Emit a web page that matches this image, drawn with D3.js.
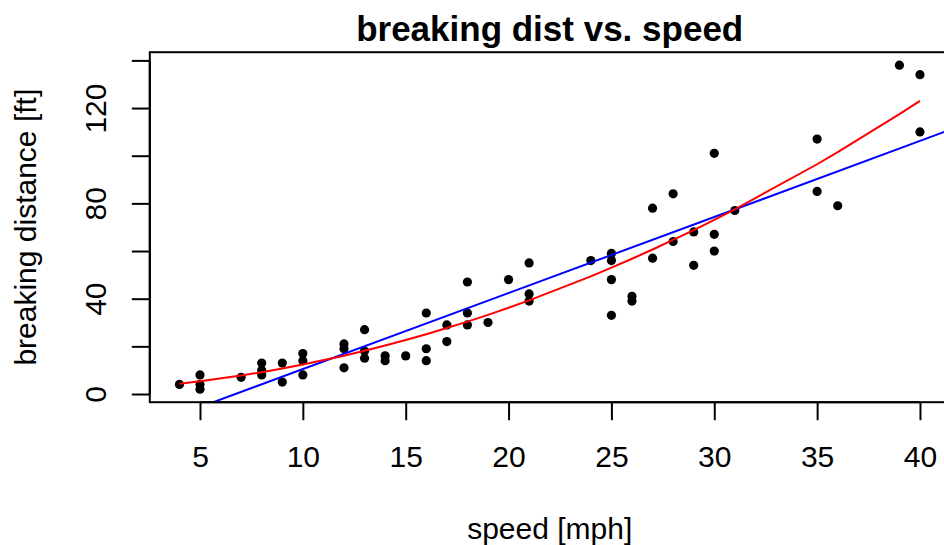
<!DOCTYPE html>
<html>
<head>
<meta charset="utf-8">
<script src="https://cdn.jsdelivr.net/npm/d3@7"></script>
<style>
  body { margin: 0; background: #fff; }
  svg { display: block; font-family: "Liberation Sans", Arial, sans-serif; }
</style>
</head>
<body>
<svg id="chart" width="944" height="545"></svg>
<script>
const speed = [4, 5, 5, 5, 7, 8, 8, 8, 9, 9, 10, 10, 10, 12, 12, 12, 13, 13, 13, 14, 14, 15,
  16, 16, 16, 17, 17, 18, 18, 18, 19, 20, 21, 21, 21, 24, 25, 25, 25, 25, 26, 26, 27, 27,
  28, 28, 29, 29, 30, 30, 30, 31, 35, 35, 36, 39, 40, 40];
const dist = [4, 8, 4, 2, 7, 13, 10, 8, 13, 5, 17, 14, 8, 21, 19, 11, 27, 18, 15, 16, 14, 16,
  34, 19, 14, 29, 22, 47, 34, 29, 30, 48, 55, 42, 39, 56, 59, 56, 48, 33, 41, 39, 78, 57,
  84, 64, 68, 54, 101, 67, 60, 77, 107, 85, 79, 138, 134, 110];
const xTicks = [5, 10, 15, 20, 25, 30, 35, 40];
const yTicks = [0, 20, 40, 60, 80, 100, 120, 140];
const yLabelled = [0, 40, 80, 120];

const svg = d3.select("#chart");
const plot = {left: 149.8, right: 949.6, top: 52.2, bottom: 402.2};
const fontSize = 30;

// R style: 4% padding on both ends of the data range
const pad = (lo, hi) => [lo - (hi - lo) * 0.04, hi + (hi - lo) * 0.04];
const x = d3.scaleLinear().domain(pad(d3.min(speed), d3.max(speed))).range([plot.left, plot.right]);
const y = d3.scaleLinear().domain(pad(d3.min(dist), d3.max(dist))).range([plot.bottom, plot.top]);

// least squares fits: straight line and quadratic
const n = speed.length;
const mx = d3.mean(speed), my = d3.mean(dist);
const slope = d3.sum(speed, (s, i) => (s - mx) * (dist[i] - my)) / d3.sum(speed, s => (s - mx) ** 2);
const intercept = my - slope * mx;

const solve3 = (A, b) => {
  const M = A.map((r, i) => r.concat(b[i]));
  for (let c = 0; c < 3; c++) {
    let p = c;
    for (let r = c + 1; r < 3; r++) if (Math.abs(M[r][c]) > Math.abs(M[p][c])) p = r;
    [M[c], M[p]] = [M[p], M[c]];
    for (let r = 0; r < 3; r++) {
      if (r === c) continue;
      const f = M[r][c] / M[c][c];
      for (let k = c; k < 4; k++) M[r][k] -= f * M[c][k];
    }
  }
  return M.map((r, i) => r[3] / r[i]);
};
const S = k => d3.sum(speed, s => s ** k);
const SY = k => d3.sum(speed, (s, i) => s ** k * dist[i]);
const quad = solve3([[n, S(1), S(2)], [S(1), S(2), S(3)], [S(2), S(3), S(4)]], [SY(0), SY(1), SY(2)]);
const quadAt = s => quad[0] + quad[1] * s + quad[2] * s * s;

svg.append("clipPath").attr("id", "clip")
  .append("rect")
  .attr("x", plot.left).attr("y", plot.top)
  .attr("width", plot.right - plot.left).attr("height", plot.bottom - plot.top);

// points
svg.append("g").selectAll("circle")
  .data(speed)
  .enter().append("circle")
  .attr("cx", d => x(d))
  .attr("cy", (d, i) => y(dist[i]))
  .attr("r", 4.6)
  .attr("fill", "#000");

// linear fit (abline, clipped to the plot region)
const xd = x.domain();
svg.append("line")
  .attr("clip-path", "url(#clip)")
  .attr("x1", x(xd[0])).attr("y1", y(intercept + slope * xd[0]))
  .attr("x2", x(xd[1])).attr("y2", y(intercept + slope * xd[1]))
  .attr("stroke", "#0000ff")
  .attr("stroke-width", 2);

// quadratic fit drawn through the sorted speeds
const sorted = Array.from(new Set(speed)).sort((a, b) => a - b);
svg.append("path")
  .datum(sorted)
  .attr("d", d3.line().x(d => x(d)).y(d => y(quadAt(d))))
  .attr("fill", "none")
  .attr("stroke", "#ff0000")
  .attr("stroke-width", 2);

// box
svg.append("rect")
  .attr("x", plot.left).attr("y", plot.top)
  .attr("width", plot.right - plot.left).attr("height", plot.bottom - plot.top)
  .attr("fill", "none")
  .attr("stroke", "#000")
  .attr("stroke-width", 2);

// x axis
const gx = svg.append("g")
  .attr("transform", `translate(0,${plot.bottom})`)
  .call(d3.axisBottom(x).tickValues(xTicks).tickSize(18).tickSizeOuter(0).tickPadding(26));
gx.select(".domain")
  .attr("d", `M${x(xTicks[0])},0H${x(xTicks[xTicks.length - 1])}`)
  .attr("stroke-width", 2);
gx.selectAll(".tick line").attr("stroke-width", 2);
gx.selectAll("text").attr("font-size", fontSize).attr("font-family", "Liberation Sans, Arial, sans-serif").attr("fill", "#000");

// y axis
const gy = svg.append("g")
  .attr("transform", `translate(${plot.left},0)`)
  .call(d3.axisLeft(y).tickValues(yTicks).tickSize(18).tickSizeOuter(0)
    .tickFormat(d => yLabelled.includes(d) ? d : ""));
gy.select(".domain")
  .attr("d", `M0,${y(yTicks[0])}V${y(yTicks[yTicks.length - 1])}`)
  .attr("stroke-width", 2);
gy.selectAll(".tick line").attr("stroke-width", 2);
gy.selectAll("text")
  .attr("x", null).attr("dy", null)
  .attr("transform", "translate(-44,0) rotate(-90)")
  .attr("text-anchor", "middle")
  .attr("font-size", fontSize).attr("font-family", "Liberation Sans, Arial, sans-serif").attr("fill", "#000");

const cx = (plot.left + plot.right) / 2;
const cy = (plot.top + plot.bottom) / 2;

svg.append("text")
  .attr("x", cx).attr("y", 41)
  .attr("text-anchor", "middle")
  .attr("font-size", 35)
  .attr("font-weight", "bold")
  .text("breaking dist vs. speed");

svg.append("text")
  .attr("x", cx).attr("y", 539)
  .attr("text-anchor", "middle")
  .attr("font-size", fontSize)
  .text("speed [mph]");

svg.append("text")
  .attr("transform", `translate(36,${cy}) rotate(-90)`)
  .attr("text-anchor", "middle")
  .attr("font-size", fontSize)
  .text("breaking distance [ft]");
</script>
</body>
</html>
